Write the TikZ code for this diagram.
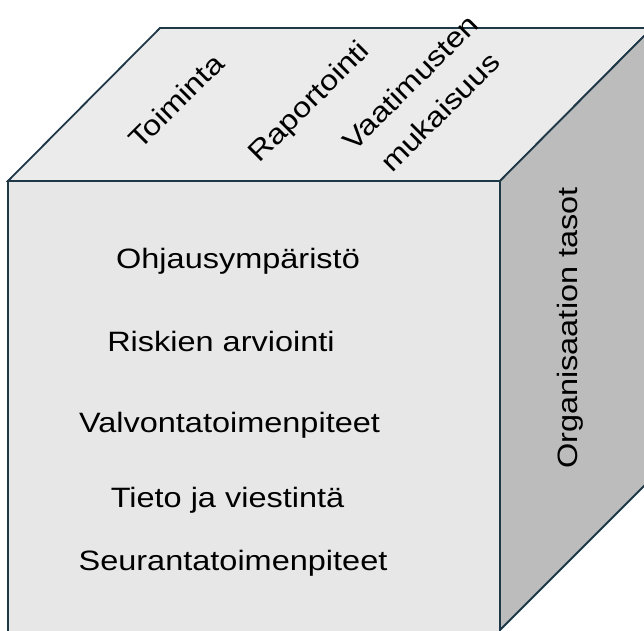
\documentclass[tikz,border=0pt]{standalone}
\usepackage{fontspec}
\setmainfont{Liberation Sans}[FakeStretch=1.16]
\definecolor{edgec}{HTML}{1E3847}
\definecolor{topc}{HTML}{EBEBEB}
\definecolor{frontc}{HTML}{E7E7E7}
\definecolor{sidec}{HTML}{BCBCBC}
\tikzset{
  face/.style={draw=edgec, line width=1.8pt, line join=miter},
  lbl/.style={inner sep=0pt, font=\fontsize{28}{42}\selectfont, text=black},
}
\begin{document}
\begin{tikzpicture}[x=1pt,y=1pt]
\useasboundingbox (0,0) rectangle (644,630);
\clip (0,0) rectangle (644,630);
% corners (y = 630 - image y)
\coordinate (FTL) at (8,449);
\coordinate (FTR) at (500,449);
\coordinate (FBR) at (500,-10);
\coordinate (FBL) at (8,-10);
\coordinate (BTL) at (160,602);
\coordinate (BTR) at (652,602);
\coordinate (SBR) at (652,152);
\coordinate (SBL) at (500,0);
% faces
\fill[frontc] (FTL) -- (FTR) -- (FBR) -- (FBL) -- cycle;
\draw[face] (FBL) -- (FTL) -- (FTR) -- (FBR);
\draw[face, fill=topc] (FTL) -- (BTL) -- (BTR) -- (FTR) -- cycle;
\draw[face, fill=sidec] (FTR) -- (BTR) -- (SBR) -- (SBL) -- cycle;
% front labels
\node[lbl, anchor=base] (l1) at (238,362) {Ohjausympäristö};
\node[lbl, anchor=base] (l2) at (221,279) {Riskien arviointi};
\node[lbl, anchor=base] (l3) at (229.5,198) {Valvontatoimenpiteet};
\node[lbl, anchor=base] (l4) at (227.5,123) {Tieto ja viestintä};
\node[lbl, anchor=base] (l5) at (233,60) {Seurantatoimenpiteet};
% top labels
\node[lbl, rotate=45] (t1) at (176,529) {Toiminta};
\node[lbl, rotate=45] (t2) at (310,527) {Raportointi};
\node[lbl, rotate=45, align=center] (t3) at (425,533) {Vaatimusten\\mukaisuus};
% side label
\node[lbl, rotate=90, anchor=base] (s1) at (577,302) {Organisaation tasot};
\end{tikzpicture}
\end{document}
